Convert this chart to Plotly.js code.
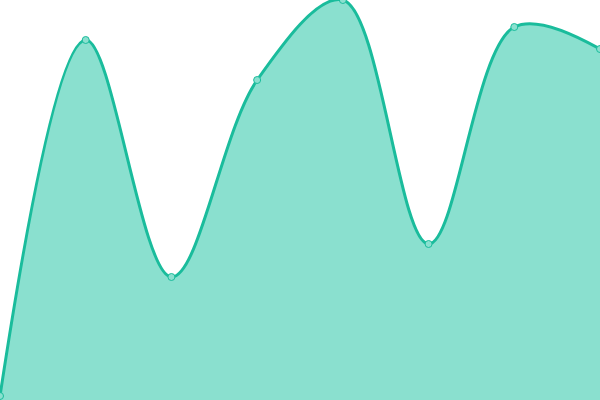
<!DOCTYPE html>
<html>
<head>
<meta charset="utf-8">
<script src="https://cdn.plot.ly/plotly-3.0.1.min.js"></script>
<style>
  html, body { margin: 0; padding: 0; background: #fff; }
  #chart { width: 600px; height: 400px; }
</style>
</head>
<body>
<div id="chart"></div>
<script>
// point positions (index) and values
var steps = [0, 1, 2, 3, 4, 5, 6, 7];
var values = [4, 360, 123, 320, 400, 156, 373, 351];

var area = {
  x: steps,
  y: values,
  type: 'scatter',
  mode: 'lines+markers',
  fill: 'tozeroy',
  fillcolor: '#8ae0cf',
  line: { color: '#1abc9c', width: 3, shape: 'spline', smoothing: 1 },
  marker: {
    size: 7,
    color: '#8ae0cf',
    line: { color: '#1abc9c', width: 1 }
  },
  hoverinfo: 'skip'
};

var layout = {
  width: 600,
  height: 400,
  margin: { l: 0, r: 0, t: 0, b: 0, pad: 0 },
  showlegend: false,
  xaxis: { range: [0, 7], visible: false, fixedrange: true },
  yaxis: { range: [0, 400], visible: false, fixedrange: true },
  plot_bgcolor: '#fff',
  paper_bgcolor: '#fff'
};

Plotly.newPlot('chart', [area], layout, { displayModeBar: false, staticPlot: true });
</script>
</body>
</html>
